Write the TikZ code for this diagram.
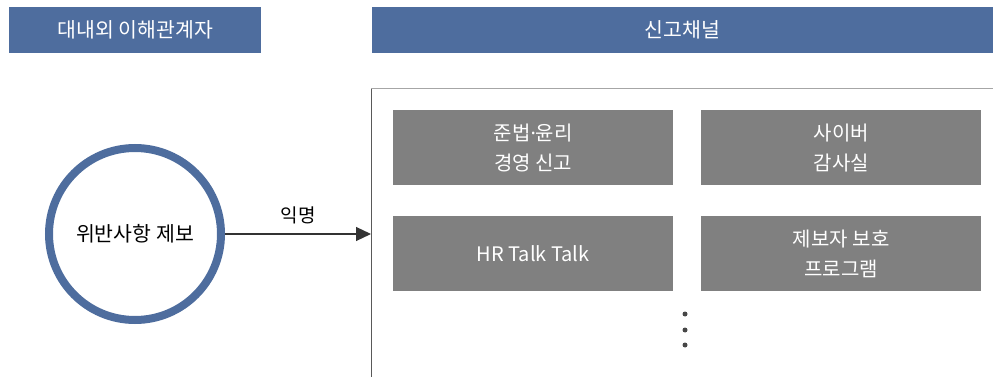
\documentclass[tikz,border=0pt]{standalone}
\usepackage{fontspec}
\setmainfont{Noto Sans CJK KR}
\newfontfamily\latinsans{Noto Sans}
\usetikzlibrary{arrows.meta}
\definecolor{hblue}{HTML}{4E6D9E}
\definecolor{bgray}{HTML}{808080}
\definecolor{adark}{HTML}{333333}
\tikzset{
  header/.style={fill=hblue, text=white, inner sep=0pt, font=\fontsize{20.5}{24}\selectfont, anchor=north west},
  chanbox/.style={fill=bgray, text=white, inner sep=0pt, minimum width=280pt, minimum height=75pt, anchor=north west, align=center, font=\fontsize{20}{30}\selectfont},
  dotm/.style={circle, fill=adark!90, inner sep=0pt, minimum size=5pt}
}
\begin{document}
\begin{tikzpicture}[x=1pt,y=-1pt]
\useasboundingbox (0,0) rectangle (993,377);
\node[header, minimum width=252pt, minimum height=46pt] (hl) at (9,7) {대내외 이해관계자};
\node[header, minimum width=621pt, minimum height=46pt] (hr) at (372,7) {신고채널};
% panel
\coordinate (ptl) at (371,89);
\coordinate (ptr) at (993,89);
\coordinate (pbl) at (371,377);
\draw[line width=1pt, black!35] (ptl) -- (ptr);
\draw[line width=1pt, black!65] (ptl) -- (pbl);
% circle
\node[circle, draw=hblue, line width=8pt, minimum size=172pt, inner sep=0pt, font=\fontsize{20.5}{24}\selectfont] (src) at (135,234) {위반사항 제보};
\coordinate (tgt) at (371,234);
\draw[adark, line width=1.2pt, -{Triangle[length=15pt,width=14pt]}] (src.east) -- node[above=6pt, black, font=\fontsize{19}{22}\selectfont] (anon) {익명} (tgt);
% boxes
\node[chanbox] (b1) at (393,110) {준법{\latinsans ·}윤리\\경영 신고};
\node[chanbox] (b2) at (701,110) {사이버\\감사실};
\node[chanbox] (b3) at (393,216) {HR Talk Talk};
\node[chanbox] (b4) at (701,216) {제보자 보호\\프로그램};
% dots
\node[dotm] (d1) at (685,314) {};
\node[dotm] (d2) at (685,330) {};
\node[dotm] (d3) at (685,345) {};
\end{tikzpicture}
\end{document}
